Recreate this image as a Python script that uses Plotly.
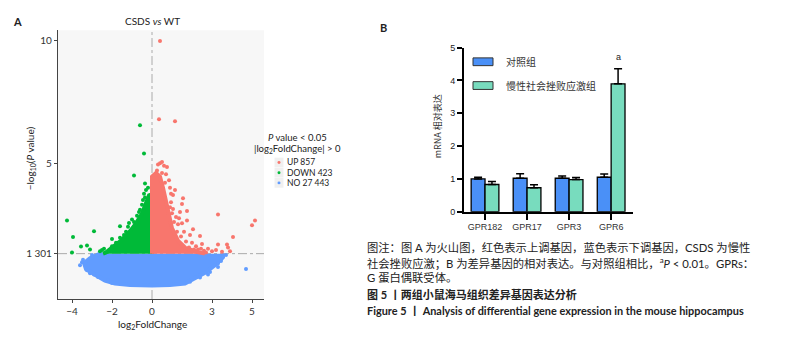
import plotly.graph_objects as go

W, H = 802, 338
def PX(x): return x / W
def PY(y): return 1 - y / H

RED = "#F8766D"; GREEN = "#00BA38"; BLUE = "#619CFF"
CTRL_C = "#4A90F7"; CSDS_C = "#78DCBE"

# ---------------- Panel A: volcano data ----------------
blue_core_x = [-2.6, -3.1, -3.4, -3.3, -2.85, -2.35, -1.85, -1.1, 0.0, 0.9, 1.65, 2.15, 2.65, 3.15, 3.5, 3.6]
blue_core_y = [1.30, 1.11, 0.91, 0.67, 0.44, 0.20, 0.08, 0.02, 0.0, 0.02, 0.08, 0.28, 0.52, 0.83, 1.11, 1.30]
blue_pts_x = [-3.6, -3.25, -3.45, -3.0, -2.55, 4.7, 3.7, 3.45, -2.9, -3.3, 2.9, 3.3, -2.2, 2.4,
              -3.5, -3.1, -2.7, 3.3, 3.55, 2.8, -2.0, 1.9]
blue_pts_y = [0.83, 0.62, 1.05, 1.25, 1.30, 0.67, 1.25, 1.0, 0.45, 0.75, 0.55, 0.9, 0.2, 0.32,
              0.95, 0.5, 0.35, 0.75, 1.15, 0.45, 0.1, 0.15]

red_core_x = [0.0, 0.0, 0.2, 0.4, 0.55, 0.7, 0.8, 1.0, 1.3, 1.65, 2.15, 2.65]
red_core_y = [1.30, 4.45, 4.60, 4.45, 4.00, 3.45, 2.94, 2.34, 1.83, 1.55, 1.39, 1.30]
red_pts_x = [0.4, 0.35, 1.15, 0.4, 0.5, 0.75, 0.25, 0.7, 0.85, 1.05, 1.55, 1.15, 1.5, 1.75, 1.05,
             1.5, 1.75, 3.3, 5.15, 5.0, 4.05, 3.75, 3.8, 3.3, 2.8, 2.4, 1.9, 2.1, 2.3, 2.6, 3.0,
             3.2, 3.5, 2.0, 1.2, 1.3, 0.95, 2.2, 1.6, 2.7, 3.9, 1.4, 0.9, 0.6,
             0.9, 1.1, 1.25, 1.45, 1.7, 1.85, 2.45, 0.65, 0.5, 0.3, 0.95, 1.35, 2.05, 2.5, 1.0]
red_pts_y = [10.0, 6.8, 6.72, 5.0, 5.05, 4.85, 4.7, 4.55, 4.3, 3.7, 3.57, 3.9, 3.33, 3.05, 3.13,
             2.54, 2.66, 2.9, 2.66, 2.46, 1.98, 1.67, 1.55, 1.67, 1.5, 2.02, 2.06, 1.47, 1.47, 1.42, 1.4,
             1.45, 1.38, 1.75, 2.8, 2.5, 3.4, 1.6, 2.2, 1.35, 1.4, 3.0, 4.0, 4.9,
             3.2, 2.6, 2.2, 2.0, 1.8, 1.55, 1.5, 4.2, 4.6, 4.95, 3.75, 2.75, 2.3, 1.7, 2.95]

green_core_x = [0.0, 0.0, -0.15, -0.3, -0.5, -0.8, -1.1, -1.5, -1.9, -2.3, -2.45]
green_core_y = [1.30, 3.73, 3.69, 3.33, 2.94, 2.54, 2.22, 1.87, 1.59, 1.35, 1.30]
green_pts_x = [-0.6, -0.4, -0.9, -0.35, -0.3, -4.25, -3.95, -3.55, -3.25, -3.1, -4.0, -2.9, -2.0,
               -1.6, -1.4, -2.15, -0.6, -0.75, -1.2, -1.8, -2.6, -1.0, -0.45, -2.4, -0.35,
               -0.2, -0.5, -0.65, -0.9, -1.3, -1.6, -2.0, -2.5, -1.15, -0.4]
green_pts_y = [6.55, 5.4, 4.5, 4.17, 3.9, 2.66, 1.98, 1.59, 1.63, 1.47, 1.35, 2.22, 1.9,
               2.42, 2.06, 1.43, 3.1, 2.85, 2.4, 1.75, 1.4, 2.7, 3.5, 1.5, 3.6,
               4.0, 3.3, 3.0, 2.6, 2.2, 1.95, 1.6, 1.45, 2.55, 3.75]

volc_xticks = [-4, -2, 0, 3, 5]
volc_yticks = [1.301, 5, 10]
volc_yticktext = ["1 301", "5", "10"]
p_cut = 1.301
legend_labels = ["UP 857", "DOWN 423", "NO 27 443"]

# ---------------- Panel B: bar data ----------------
genes = ["GPR182", "GPR17", "GPR3", "GPR6"]
ctrl = [1.00, 1.02, 1.02, 1.05]
ctrl_err = [0.05, 0.14, 0.07, 0.10]
csds = [0.83, 0.73, 0.98, 3.90]
csds_err = [0.09, 0.09, 0.06, 0.46]
group_names = ["对照组", "慢性社会挫败应激组"]

fig = go.Figure()

def poly(xs, ys, c):
    fig.add_trace(go.Scatter(x=xs, y=ys, mode="lines", fill="toself", fillcolor=c,
                             line=dict(color=c, width=4), xaxis="x", yaxis="y",
                             hoverinfo="skip", showlegend=False))

def pts(xs, ys, c):
    fig.add_trace(go.Scatter(x=xs, y=ys, mode="markers", marker=dict(color=c, size=4),
                             xaxis="x", yaxis="y", showlegend=False))

poly(blue_core_x, blue_core_y, BLUE)
pts(blue_pts_x, blue_pts_y, BLUE)
poly(green_core_x, green_core_y, GREEN)
pts(green_pts_x, green_pts_y, GREEN)
poly(red_core_x, red_core_y, RED)
pts(red_pts_x, red_pts_y, RED)

fig.add_trace(go.Bar(x=list(range(len(genes))), y=ctrl, name=group_names[0], xaxis="x2", yaxis="y2",
                     marker=dict(color=CTRL_C, line=dict(color="black", width=1.3)),
                     error_y=dict(type="data", array=ctrl_err, arrayminus=[0]*4, symmetric=False,
                                  color="black", thickness=1.5, width=4),
                     showlegend=False))
fig.add_trace(go.Bar(x=list(range(len(genes))), y=csds, name=group_names[1], xaxis="x2", yaxis="y2",
                     marker=dict(color=CSDS_C, line=dict(color="black", width=1.3)),
                     error_y=dict(type="data", array=csds_err, arrayminus=[0]*4, symmetric=False,
                                  color="black", thickness=1.5, width=4),
                     showlegend=False))

LAT = "Lato, 'Noto Sans CJK SC', sans-serif"
ARI = "'Liberation Sans', Arial, 'Noto Sans CJK SC', sans-serif"
CJK = "'Noto Sans CJK SC', sans-serif"

fig.update_layout(
    width=W, height=H, margin=dict(l=0, r=0, t=0, b=0),
    paper_bgcolor="white", plot_bgcolor="white",
    barmode="group", bargap=0.34, bargroupgap=0,
    xaxis=dict(domain=[PX(58), PX(264)], range=[-4.7, 5.6], tickvals=volc_xticks,
               showline=True, linecolor="#444", linewidth=1.2, ticks="outside", ticklen=3,
               tickcolor="#444", showgrid=False, zeroline=False,
               tickfont=dict(family=LAT, size=10, color="#333"), anchor="y"),
    yaxis=dict(domain=[PY(303), PY(26)], range=[-0.556, 10.44], tickvals=volc_yticks,
               ticktext=volc_yticktext, showline=True, linecolor="#444", linewidth=1.2,
               ticks="outside", ticklen=3, tickcolor="#444", showgrid=False, zeroline=False,
               tickfont=dict(family=LAT, size=10, color="#333"), anchor="x"),
    xaxis2=dict(domain=[PX(464), PX(633)], range=[-0.5, 3.52], tickvals=[0, 1, 2, 3],
                ticktext=genes, showline=True, linecolor="black", linewidth=2,
                ticks="outside", ticklen=6, tickwidth=2, tickcolor="black", showgrid=False,
                zeroline=False, tickfont=dict(family=ARI, size=9, color="#333"), anchor="y2"),
    yaxis2=dict(domain=[PY(213), PY(44)], range=[0, 5], tickvals=[0, 1, 2, 3, 4, 5],
                showline=True, linecolor="black", linewidth=2, ticks="outside", ticklen=5,
                tickwidth=2, tickcolor="black", showgrid=False, zeroline=False,
                tickfont=dict(family=ARI, size=9, color="#222"), anchor="x2"),
)

shapes = [
    dict(type="rect", xref="paper", yref="paper", x0=PX(58), x1=PX(264), y0=PY(303), y1=PY(26),
         fillcolor="#f7f7f7", line=dict(width=0), layer="below"),
    dict(type="line", xref="x", yref="y", x0=0, x1=0, y0=-0.556, y1=10.44,
         line=dict(color="#aaaaaa", width=1, dash="dashdot"), layer="below"),
    dict(type="line", xref="x", yref="y", x0=-4.7, x1=5.6, y0=p_cut, y1=p_cut,
         line=dict(color="#aaaaaa", width=1, dash="dashdot"), layer="below"),
]
for i, c in enumerate([RED, GREEN, BLUE]):
    yc = 162.3 + i * 10.5
    shapes.append(dict(type="rect", xref="paper", yref="paper", x0=PX(274.5), x1=PX(283.5),
                       y0=PY(yc + 5), y1=PY(yc - 5), fillcolor="#f0f0f0", line=dict(width=0)))
    shapes.append(dict(type="circle", xref="paper", yref="paper", x0=PX(277.5), x1=PX(280.5),
                       y0=PY(yc + 1.5), y1=PY(yc - 1.5), fillcolor=c, line=dict(width=0)))
for yc, c in [(58.5, CTRL_C), (83, CSDS_C)]:
    shapes.append(dict(type="rect", xref="paper", yref="paper", x0=PX(473), x1=PX(493),
                       y0=PY(yc + 4), y1=PY(yc - 4), fillcolor=c, line=dict(color="#333", width=1)))
fig.update_layout(shapes=shapes)

ann = []
def A(x, y, t, size, fam=LAT, color="#222", xa="left", ya="middle", **kw):
    ann.append(dict(x=PX(x), y=PY(y), xref="paper", yref="paper", text=t, showarrow=False,
                    xanchor=xa, yanchor=ya, font=dict(family=fam, size=size, color=color), **kw))

A(17, 17, "<b>A</b>", 11, xa="center")
A(383, 23, "<b>B</b>", 11, xa="center")
A(152, 17, "CSDS <i>vs</i> WT", 10, xa="center")
A(152, 329, "log<sub>2</sub>FoldChange", 10, xa="center")
A(30, 158, "−log<sub>10</sub>(<i>P</i> value)", 10, xa="center", textangle=-90)
A(297, 137, "<i>P</i> value &lt; 0.05", 9.5, xa="center")
A(297, 148, "|log<sub>2</sub>FoldChange| &gt; 0", 9.5, xa="center")
for i, t in enumerate(legend_labels):
    A(284.5, 162.3 + i * 10.5, t, 8.5)
A(437, 125, "mRNA 相对表达", 9, fam=CJK, color="#333", xa="center", textangle=-90)
A(504, 58.5, group_names[0], 10, fam=CJK, color="#333")
A(504, 83, group_names[1], 10, fam=CJK, color="#333")
ann.append(dict(x=3 + 1/6, y=4.72, xref="x2", yref="y2", text="a", showarrow=False,
                xanchor="center", yanchor="middle", font=dict(family=ARI, size=9, color="#222")))
CAP = "Lato, 'Noto Sans CJK SC', sans-serif"
A(365, 250, "图注：图 A 为火山图，红色表示上调基因，蓝色表示下调基因，CSDS 为慢性", 11.3, fam=CAP)
A(365, 265, "社会挫败应激；B 为差异基因的相对表达。与对照组相比，<sup>a</sup><i>P</i> &lt; 0.01。GPRs：", 11.3, fam=CAP)
A(365, 281, "G 蛋白偶联受体。", 11.3, fam=CAP)
A(365, 298, "<b>图 5 丨两组小鼠海马组织差异基因表达分析</b>", 11, fam=CAP)
A(365, 315, "<b>Figure 5 丨 Analysis of differential gene expression in the mouse hippocampus</b>", 10.9, fam=CAP)
fig.update_layout(annotations=ann)

fig.write_html("out.html", config={"displayModeBar": False},
               post_script="document.body.style.margin='0';document.body.style.overflow='hidden';")
